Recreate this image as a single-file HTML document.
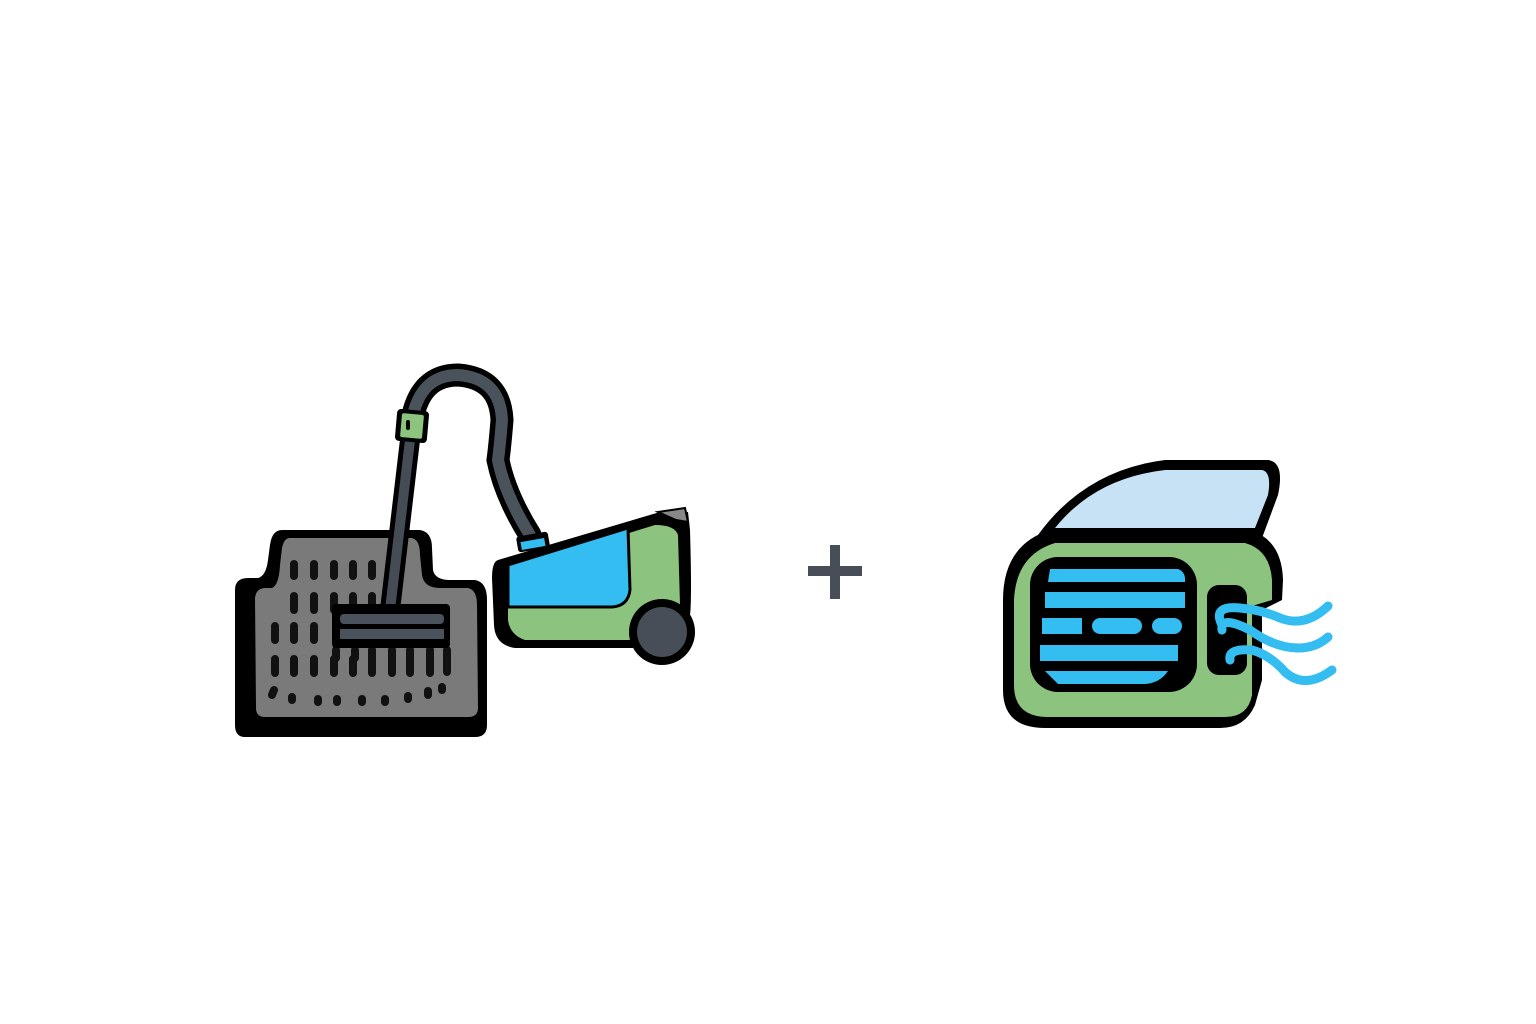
<!DOCTYPE html>
<html><head><style>html,body{margin:0;padding:0;background:#fff}svg{display:block}</style></head>
<body>
<svg width="1536" height="1024" viewBox="0 0 1536 1024" xmlns="http://www.w3.org/2000/svg">
<rect width="1536" height="1024" fill="#fff"/>
<!-- mat -->
<path d="M282,530 L420,530 Q432,532 432,548 L433,570 Q435,580 450,580 L475,580 Q487,582 487,600 L487,725 Q487,737 475,737 L245,737 Q235,737 235,725 L235,590 Q235,578 248,578 L258,578 Q266,576 268,560 L270,545 Q272,530 282,530Z" fill="#000"/>
<path d="M290,538 L412,538 Q420,540 420,555 L422,575 Q424,588 440,588 L468,588 Q477,590 477,605 L478,708 Q478,717 468,717 L265,717 Q256,717 256,708 L255,598 Q256,588 266,588 L272,588 Q279,585 280,565 L282,548 Q284,538 290,538Z" fill="#7a7a7a"/>
<g stroke="#111" stroke-width="8" stroke-linecap="round">
<path d="M294,564v12M314,564v12M334,564v12M353,564v12M372,564v12"/>
<path d="M294,596v14M314,596v14M334,596v14M353,596v14M372,596v14"/>
<path d="M275,626v14M294,626v14M314,626v14"/>
<path d="M275,659v14M294,659v14M314,659v14M334,659v14M353,659v14M372,659v14M392,659v14M410,659v14M430,659v14"/>
<path d="M336,650v8M355,650v8M372,650v8M392,650v8M410,650v8M430,650v8M447,650v22"/>
<path d="M274,690l-2,5M292,697v3M318,699v3M337,699v3M362,699v3M385,699v3M408,696v3M428,691v4M442,687v3"/>
</g>
<!-- hose -->
<path d="M412,420 Q420,375 458,375 Q500,378 502,420 Q500,445 498,460 Q505,495 530,535" fill="none" stroke="#000" stroke-width="23" stroke-linecap="round"/>
<path d="M412,420 Q420,375 458,375 Q500,378 502,420 Q500,445 498,460 Q505,495 530,535" fill="none" stroke="#4a525c" stroke-width="12" stroke-linecap="round"/>
<!-- pole -->
<line x1="410" y1="440" x2="390" y2="610" stroke="#000" stroke-width="20"/>
<line x1="410" y1="440" x2="390" y2="610" stroke="#454c56" stroke-width="10"/>
<rect x="396" y="410" width="32" height="32" rx="4" fill="#000" transform="rotate(5 412 426)"/>
<rect x="401" y="414" width="22" height="24" rx="2" fill="#8cc47f" transform="rotate(5 412 426)"/>
<rect x="406" y="420" width="4" height="10" rx="2" fill="#000"/>
<!-- nozzle -->
<rect x="332" y="604" width="118" height="44" rx="4" fill="#000"/>
<rect x="340" y="614" width="104" height="10" rx="4" fill="#4a525c"/>
<rect x="340" y="629" width="104" height="10" fill="#4a525c"/>
<!-- vacuum body -->
<path d="M498,560 L660,512 L688,512 L690,530 Q692,600 690,615 L650,648 L515,648 Q495,645 494,625 L492,578 Q492,562 498,560Z" fill="#000"/>
<path d="M508,570 L655,525 Q675,525 678,535 L680,605 L640,640 L525,640 Q510,635 508,620Z" fill="#8cc47f"/>
<path d="M508,565 L628,528 L630,590 Q628,606 612,607 L508,607Z" fill="#33bdf0" stroke="#000" stroke-width="3"/>
<path d="M658,512 L685,508 L688,522 L676,520 Z" fill="#888" stroke="#000" stroke-width="2"/>
<rect x="517" y="534" width="32" height="16" rx="3" fill="#000" transform="rotate(-10 533 542)"/>
<rect x="521" y="540" width="24" height="8" fill="#33bdf0" transform="rotate(-10 533 544)"/>
<circle cx="662" cy="632" r="33" fill="#000"/>
<circle cx="662" cy="632" r="25" fill="#474e58"/>
<!-- plus -->
<rect x="808" y="566" width="54" height="10" fill="#474e58"/>
<rect x="830" y="545" width="10" height="54" fill="#474e58"/>
<!-- AC -->
<path d="M1038,535 Q1085,470 1165,460 L1268,460 Q1285,462 1278,495 L1262,538Z" fill="#000"/>
<path d="M1055,528 Q1095,478 1165,470 L1262,470 Q1272,472 1268,495 L1255,528Z" fill="#c7e1f5"/>
<path d="M1050,530 L1250,530 Q1282,540 1283,580 L1282,600 L1262,610 L1262,680 L1255,705 Q1245,728 1220,728 L1045,728 Q1003,728 1003,690 L1003,600 Q1003,545 1050,530Z" fill="#000"/>
<path d="M1055,543 L1245,543 Q1270,550 1272,580 L1272,600 L1252,606 L1252,695 Q1248,717 1225,717 L1048,717 Q1014,717 1014,685 L1014,600 Q1016,555 1055,543Z" fill="#8cc47f"/>
<rect x="1030" y="557" width="167" height="135" rx="28" fill="#000"/>
<g fill="#33bdf0">
<path d="M1050,569 L1178,569 Q1186,572 1185,582 L1048,582Z"/>
<rect x="1045" y="592" width="140" height="16"/>
<rect x="1042" y="618" width="40" height="16"/>
<rect x="1092" y="618" width="50" height="16" rx="8"/>
<rect x="1152" y="618" width="30" height="16" rx="8"/>
<rect x="1040" y="645" width="138" height="16"/>
<path d="M1045,671 L1168,671 Q1160,683 1145,684 L1058,684Z"/>
</g>
<rect x="1207" y="585" width="40" height="90" rx="12" fill="#000"/>
<g fill="none" stroke="#33bdf0" stroke-width="9" stroke-linecap="round">
<path d="M1222,625 Q1212,605 1240,608 Q1262,610 1280,618 Q1305,628 1328,606"/>
<path d="M1222,630 Q1220,615 1250,630 Q1275,648 1298,648 Q1316,648 1328,637"/>
<path d="M1230,660 Q1228,648 1252,650 Q1270,655 1285,672 Q1305,690 1332,670"/>
</g>
</svg>
</body></html>
